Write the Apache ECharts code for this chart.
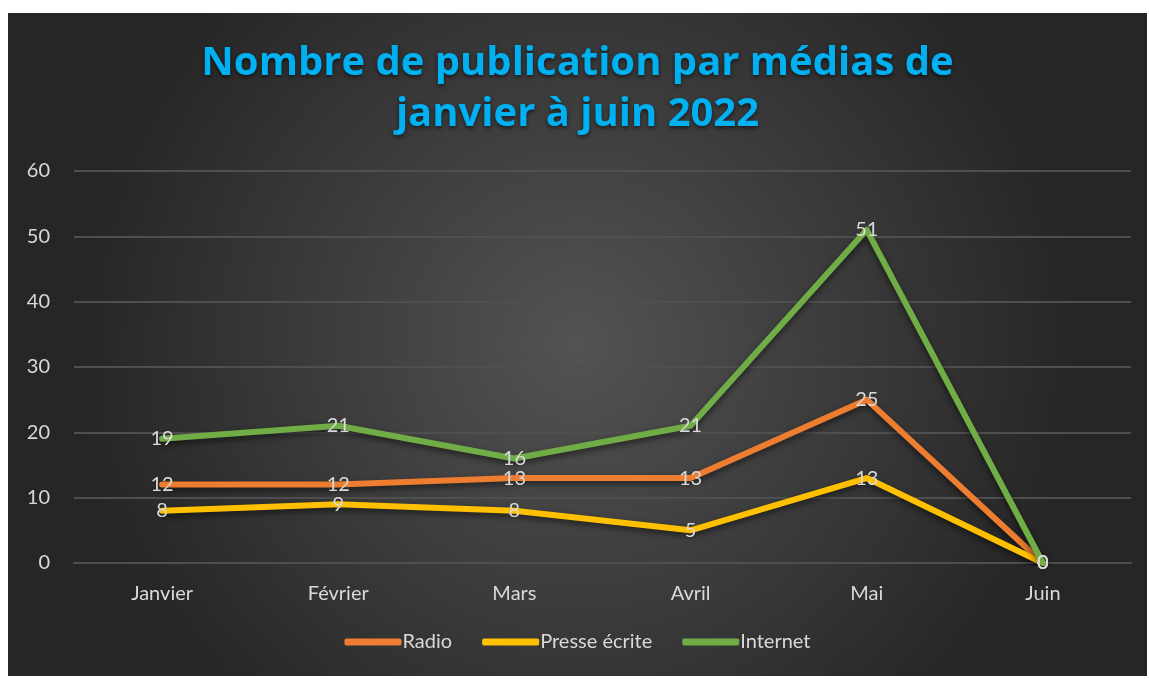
<!DOCTYPE html>
<html>
<head>
<meta charset="utf-8">
<script src="https://cdn.jsdelivr.net/npm/echarts@6/dist/echarts.min.js"></script>
<style>
    html, body { margin: 0; padding: 0; background: #fff; }
    #main { position: absolute; left: 8px; top: 13px; width: 1139px; height: 663px; }
</style>
</head>
<body>
<div id="main"></div>
<script type="text/javascript">
    var mois = ['Janvier', 'Février', 'Mars', 'Avril', 'Mai', 'Juin'];
    var radio = [12, 12, 13, 13, 25, 0];
    var presse = [8, 9, 8, 5, 13, 0];
    var internet = [19, 21, 16, 21, 51, 0];

    var myChart = echarts.init(document.getElementById('main'));

    // style commun des courbes (symbole minuscule pour garder les étiquettes)
    function serie(nom, couleur, valeurs) {
        return {
            name: nom,
            type: 'line',
            symbol: 'circle',
            symbolSize: 1,
            data: valeurs,
            lineStyle: {
                width: 6,
                color: couleur,
                cap: 'round',
                join: 'round',
                shadowColor: 'rgba(0,0,0,0.55)',
                shadowBlur: 6,
                shadowOffsetY: 3
            },
            itemStyle: { color: couleur },
            label: {
                show: true,
                position: 'inside',
                color: '#d9d9d9',
                fontFamily: 'Lato',
                fontSize: 20
            },
            labelLayout: { hideOverlap: false }
        };
    }

    var option = {
        backgroundColor: {
            type: 'radial',
            x: 0.5, y: 0.5, r: 0.75,
            colorStops: [
                {offset: 0, color: '#535353'},
                {offset: 1, color: '#262626'}
            ]
        },
        title: {
            text: 'Nombre de publication par médias de\njanvier à juin 2022',
            left: 'center',
            top: 20,
            textStyle: {
                color: '#00b0f0',
                fontFamily: 'Open Sans',
                fontWeight: 'bold',
                fontSize: 40,
                lineHeight: 51,
                textShadowColor: 'rgba(0,0,0,0.6)',
                textShadowBlur: 4,
                textShadowOffsetY: 2
            }
        },
        legend: {
            data: ['Radio', 'Presse écrite', 'Internet'],
            bottom: 19,
            itemWidth: 57,
            itemHeight: 7,
            itemGap: 30,
            textStyle: { color: '#d9d9d9', fontFamily: 'Lato', fontSize: 20, padding: [0, 0, 0, -4] },
            icon: 'roundRect'
        },
        grid: {
            left: 66,
            right: 16,
            top: 158,
            bottom: 113
        },
        xAxis: {
            type: 'category',
            data: mois,
            axisLine: { show: true, lineStyle: { color: '#4f4f4f', width: 2 } },
            axisTick: { show: false },
            axisLabel: { color: '#d9d9d9', fontFamily: 'Lato', fontSize: 20, margin: 21 }
        },
        yAxis: {
            type: 'value',
            min: 0,
            max: 60,
            interval: 10,
            axisLine: { show: false },
            axisTick: { show: false },
            splitLine: { lineStyle: { color: '#4f4f4f', width: 2 } },
            axisLabel: { color: '#d9d9d9', fontFamily: 'Lato', fontSize: 20, margin: 24 }
        },
        series: [
            serie('Radio', '#ed7d31', radio),
            serie('Presse écrite', '#ffc000', presse),
            serie('Internet', '#70ad47', internet)
        ]
    };
    myChart.setOption(option);
</script>
</body>
</html>
